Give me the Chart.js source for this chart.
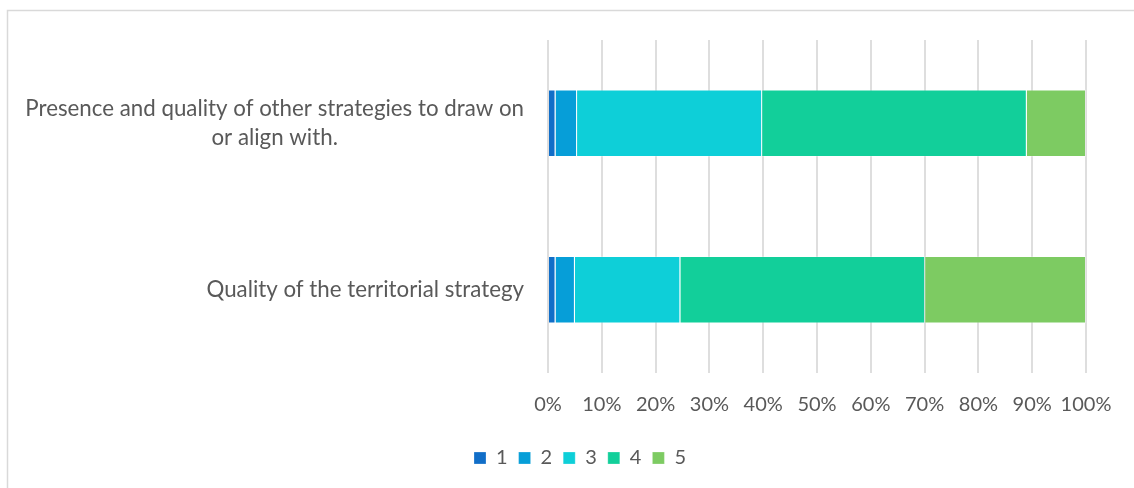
<!DOCTYPE html>
<html lang="en">
<head>
  <meta charset="UTF-8" />
  <title>Strategy ratings</title>
  <script src="https://cdn.jsdelivr.net/npm/chart.js"></script>
  <style>
    html, body { margin: 0; padding: 0; background: #fff; }
    canvas { display: block; }
  </style>
</head>
<body>
  <canvas id="chart" width="1134" height="488"></canvas>

  <script>
    const categories = [
      ['Presence and quality of other strategies to draw on', 'or align with.'],
      ['Quality of the territorial strategy']
    ];
    const seriesNames = ['1', '2', '3', '4', '5'];
    // percent of answers per rating, one value per category (top to bottom)
    const score1 = [1.4, 1.4];
    const score2 = [4.0, 3.6];
    const score3 = [34.4, 19.6];
    const score4 = [49.2, 45.5];
    const score5 = [11.0, 29.9];
    const xTicks = [0, 10, 20, 30, 40, 50, 60, 70, 80, 90, 100];

    const colors = ['#116ec8', '#069ed8', '#0ecfd8', '#12cf9a', '#7dcb62'];
    const textColor = '#595959';
    const fontFamily = 'Lato, "Open Sans", sans-serif';

    // frame round the chart, as in the exported picture
    const framePlugin = {
      id: 'frame',
      beforeDraw(chart) {
        const c = chart.ctx;
        c.save();
        c.strokeStyle = '#d9d9d9';
        c.lineWidth = 1.5;
        c.strokeRect(7.5, 10.5, 1400, 800);
        c.restore();
      }
    };

    // category labels: block right aligned to the axis, lines centered inside it
    const yLabelPlugin = {
      id: 'yLabels',
      afterDraw(chart) {
        const c = chart.ctx;
        const yScale = chart.scales.y;
        const right = chart.chartArea.left - 24;
        const lineH = 29;
        c.save();
        c.font = '22.3px ' + fontFamily;
        c.fillStyle = textColor;
        c.textAlign = 'center';
        c.textBaseline = 'middle';
        chart.data.labels.forEach((lbl, i) => {
          const lines = Array.isArray(lbl) ? lbl : [lbl];
          const w = Math.max(...lines.map(l => c.measureText(l).width));
          const cx = right - w / 2;
          const cy = yScale.getPixelForTick(i);
          lines.forEach((l, j) => {
            c.fillText(l, cx, cy + (j - (lines.length - 1) / 2) * lineH);
          });
        });
        c.restore();
      }
    };

    const seriesData = [score1, score2, score3, score4, score5];

    new Chart(document.getElementById('chart'), {
      type: 'bar',
      data: {
        labels: categories,
        datasets: seriesNames.map((name, i) => ({
          label: name,
          data: seriesData[i],
          backgroundColor: colors[i],
          borderColor: 'rgba(255,255,255,0.25)',
          borderWidth: 1,
          categoryPercentage: 1,
          barPercentage: 0.405
        }))
      },
      options: {
        indexAxis: 'y',
        responsive: false,
        animation: false,
        layout: { padding: { left: 74, right: 48, top: 40, bottom: 10 } },
        scales: {
          x: {
            stacked: true,
            min: 0,
            max: 100,
            afterBuildTicks(scale) {
              scale.ticks = xTicks.map(v => ({ value: v }));
            },
            grid: { color: '#dedede', lineWidth: 2, drawTicks: false },
            border: { display: false },
            ticks: {
              padding: 20,
              maxRotation: 0,
              minRotation: 0,
              autoSkip: false,
              color: textColor,
              font: { family: fontFamily, size: 20 },
              callback: v => v + '%'
            }
          },
          y: {
            stacked: true,
            grid: { display: false },
            border: { display: false },
            ticks: { display: false },
            afterFit(scale) { scale.width = 474; }
          }
        },
        plugins: {
          legend: {
            position: 'bottom',
            labels: {
              boxWidth: 12,
              boxHeight: 12,
              padding: 11,
              color: textColor,
              font: { family: fontFamily, size: 20 }
            }
          },
          tooltip: { enabled: false }
        }
      },
      plugins: [framePlugin, yLabelPlugin]
    });
  </script>
</body>
</html>
